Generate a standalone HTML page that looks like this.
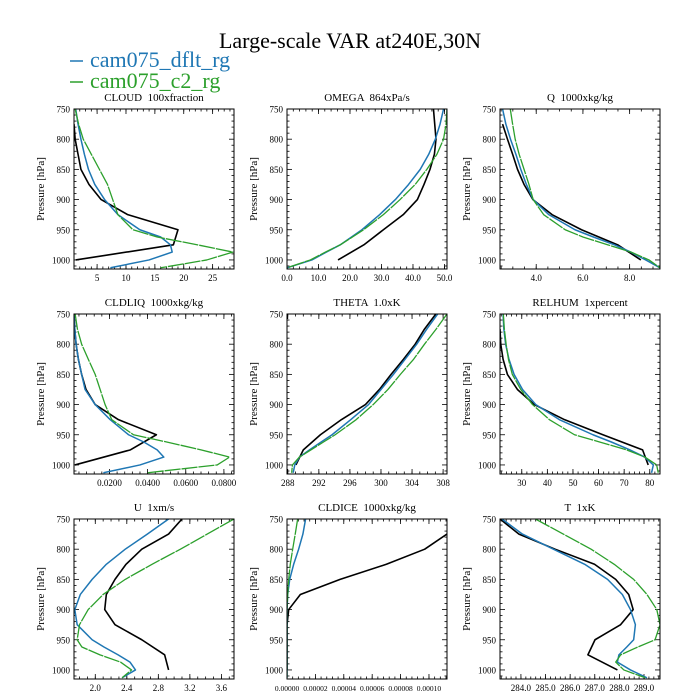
<!DOCTYPE html>
<html><head><meta charset="utf-8"><style>
html,body{margin:0;padding:0;background:#fff;}
svg{display:block;font-family:"Liberation Serif",serif;}
text{white-space:pre;}
</style></head><body>
<svg id="chart" width="700" height="700" viewBox="0 0 700 700">
<text x="350" y="48" font-size="22" text-anchor="middle">Large-scale VAR at240E,30N</text>
<g>
<line x1="70" y1="61" x2="83" y2="61" stroke="#1f77b4" stroke-width="1.5"/>
<text x="90" y="67" font-size="22" fill="#1f77b4">cam075_dflt_rg</text>
<line x1="70" y1="82" x2="83" y2="82" stroke="#2ca02c" stroke-width="1.5"/>
<text x="90" y="88" font-size="22" fill="#2ca02c">cam075_c2_rg</text>
</g>
<g id="panels"></g>
</svg>
<script>
// Pressure levels
const pModel = [750,775,800,825,850,875,900,925,950,962,975,987,1000,1013];
const pObs = [750,775,800,825,850,875,900,925,950,975,1000];

// CLOUD
const cloudDflt = [1.3,1.7,2.2,2.8,3.5,4.6,6.3,8.6,12.4,16.0,17.7,18.0,14.0,7.3];
const cloudC2 = [1.2,1.8,2.6,4.0,5.4,6.8,7.7,8.6,11.2,15.4,22.4,28.5,24.0,16.0];
const cloudObs = [null,1.0,1.2,1.7,2.2,3.6,5.7,10.3,19.0,18.2,1.3];
const cloudTicks = [5,10,15,20,25];
// OMEGA
const omegaDflt = [49.7,48.6,47.1,45.0,42.3,38.6,34.4,29.4,23.8,20.5,16.9,12.5,7.9,0];
const omegaC2 = [50.8,50.5,49.7,47.6,44.4,40.7,35.9,30.6,24.3,20.8,16.9,12.2,7.4,0];
const omegaObs = [46.5,46.9,47.3,46.8,45.4,43.5,41.4,36.9,30.6,24.4,16.2];
const omegaTicks = [0,10,20,30,40,50];
// Q
const qDflt = [2.56,2.70,2.90,3.13,3.34,3.58,3.87,4.54,5.66,6.45,7.35,8.05,8.69,9.30];
const qC2 = [2.89,2.99,3.10,3.27,3.48,3.69,3.87,4.32,5.24,6.00,7.07,8.06,8.83,9.30];
const qObs = [null,2.56,2.77,2.99,3.20,3.48,3.86,4.68,5.94,7.49,8.48];
const qTicks = [4,6,8];
// CLDLIQ
const liqDflt = [0.0014,0.0018,0.0025,0.0037,0.0054,0.0072,0.0125,0.0204,0.0300,0.0380,0.0450,0.0485,0.0360,0.0168];
const liqC2 = [0.0020,0.0032,0.0054,0.0089,0.0125,0.0151,0.0177,0.0212,0.0326,0.0500,0.0680,0.0830,0.0765,0.0397];
const liqObs = [0.0014,0.0018,0.0025,0.0037,0.0054,0.0077,0.0125,0.0247,0.0446,0.0310,0.0019];
const liqTicks = [0.02,0.04,0.06,0.08];
// THETA
const thDflt = [307.3,305.9,304.6,303.1,301.6,300.0,298.4,296.1,293.7,292.3,290.8,289.5,288.9,288.7];
const thC2 = [308.5,307.1,305.6,304.2,302.5,300.9,299.0,296.8,294.1,292.6,291.0,289.5,288.6,288.5];
const thObs = [307.06,305.6,304.4,302.9,301.3,299.8,298.0,294.9,292.2,290.0,289.05];
const thTicks = [288,292,296,300,304,308];
// RELHUM
const rhDflt = [22.7,23.0,23.7,25.0,27.0,30.3,35.5,44.7,57.8,65.0,72.2,78.0,81.4,80.7];
const rhC2 = [22.8,23.2,23.9,24.8,26.3,29.6,34.2,40.8,50.6,60.4,70.9,78.1,82.7,83.3];
const rhObs = [null,21.5,21.8,22.7,24.4,28.3,34.9,46.7,61.7,77.2,79.4];
const rhTicks = [30,40,50,60,70,80];
// U
const uDflt = [2.93,2.66,2.38,2.14,1.96,1.81,1.74,1.77,1.96,2.11,2.29,2.44,2.51,2.34];
const uC2 = [3.76,3.42,3.08,2.72,2.38,2.10,1.91,1.80,1.77,1.83,2.06,2.32,2.46,2.34];
const uObs = [3.10,2.93,2.59,2.39,2.25,2.14,2.12,2.25,2.59,2.88,2.93];
const uTicks = [2.0,2.4,2.8,3.2,3.6];
// CLDICE
const iceDflt = [1.31e-5,1.12e-5,8.2e-6,4.7e-6,1.9e-6,5e-7,0,0,0,0,0,0,0,0];
const iceC2 = [7.5e-6,5.8e-6,4.0e-6,2.3e-6,1.2e-6,5e-7,0,0,0,0,0,0,0,0];
const iceObs = [null,1.127e-4,9.7e-5,7.0e-5,3.74e-5,9.4e-6,1.2e-6,0,0,0,0];
const iceTicks = [0,2e-5,4e-5,6e-5,8e-5,1e-4];
// T
const tDflt = [283.23,284.06,285.32,286.59,287.52,288.12,288.45,288.65,288.58,288.30,287.98,287.92,288.45,289.12];
const tC2 = [284.59,285.72,286.85,287.79,288.58,289.12,289.52,289.65,289.45,288.75,288.05,287.85,288.18,289.05];
const tObs = [283.15,283.92,285.39,286.99,287.85,288.38,288.56,288.05,287.01,286.72,287.92];
const tTicks = [284,285,286,287,288,289];

const yTicks = [750,800,850,900,950,1000];

const panels = [
 {name:'cloud',title:'CLOUD  100xfraction',col:0,row:0,dom:[1.0,28.7],d:cloudDflt,c:cloudC2,o:cloudObs,ticks:cloudTicks,minor:1,fs:9,fmt:v=>v.toFixed(0)},
 {name:'omega',title:'OMEGA  864xPa/s',col:1,row:0,dom:[0,50.8],d:omegaDflt,c:omegaC2,o:omegaObs,ticks:omegaTicks,minor:2,fs:9,fmt:v=>v.toFixed(1)},
 {name:'q',title:'Q  1000xkg/kg',col:2,row:0,dom:[2.45,9.3],d:qDflt,c:qC2,o:qObs,ticks:qTicks,minor:0.5,fs:9,fmt:v=>v.toFixed(1)},
 {name:'cldliq',title:'CLDLIQ  1000xkg/kg',col:0,row:1,dom:[0.0014,0.0853],d:liqDflt,c:liqC2,o:liqObs,ticks:liqTicks,minor:0.004,fs:9,fmt:v=>v.toFixed(4)},
 {name:'theta',title:'THETA  1.0xK',col:1,row:1,dom:[287.9,308.5],d:thDflt,c:thC2,o:thObs,ticks:thTicks,minor:1,fs:9,fmt:v=>v.toFixed(0)},
 {name:'relhum',title:'RELHUM  1xpercent',col:2,row:1,dom:[21.5,84],d:rhDflt,c:rhC2,o:rhObs,ticks:rhTicks,minor:2,fs:9,fmt:v=>v.toFixed(0)},
 {name:'u',title:'U  1xm/s',col:0,row:2,dom:[1.73,3.76],d:uDflt,c:uC2,o:uObs,ticks:uTicks,minor:0.1,fs:9,fmt:v=>v.toFixed(1)},
 {name:'cldice',title:'CLDICE  1000xkg/kg',col:1,row:2,dom:[0,1.127e-4],d:iceDflt,c:iceC2,o:iceObs,ticks:iceTicks,minor:4e-6,fs:7.5,fmt:v=>v.toFixed(5)},
 {name:'t',title:'T  1xK',col:2,row:2,dom:[283.15,289.65],d:tDflt,c:tC2,o:tObs,ticks:tTicks,minor:0.2,fs:9,fmt:v=>v.toFixed(1)}
];

const NS='http://www.w3.org/2000/svg';
const colX=[74,287,500], rowY=[109,314,519], W=160, H=160, PMIN=750, PMAX=1015;
function mk(tag, attrs, parent){const e=document.createElementNS(NS,tag);for(const k in attrs)e.setAttribute(k,attrs[k]);parent.appendChild(e);return e;}
const root=document.getElementById('panels');

panels.forEach(pn=>{
  const x0=colX[pn.col], y0=rowY[pn.row];
  const g=mk('g',{},root);
  
  
  const xs=v=>x0+(v-pn.dom[0])/(pn.dom[1]-pn.dom[0])*W;
  const ys=p=>y0+(p-PMIN)/(PMAX-PMIN)*H;
  const cp=mk('clipPath',{id:'clip-'+pn.name},g);
  mk('rect',{x:x0,y:y0,width:W,height:H},cp);
  const t=mk('text',{x:x0+W/2,y:y0-8,'font-size':11,'text-anchor':'middle'},g);
  t.textContent=pn.title;
  
  
  const yl=mk('text',{x:0,y:0,'font-size':11,'text-anchor':'middle',transform:`translate(${x0-30},${y0+H/2}) rotate(-90)`},g);
  yl.textContent='Pressure [hPa]';
  
  
  const tk=mk('g',{stroke:'#000','stroke-width':0.8},g);
  
  
  for(let p=750;p<=1010;p+=10){
    const major=(p%50===0), L=major?5:2.5, y=ys(p);
    mk('line',{x1:x0,y1:y,x2:x0+L,y2:y},tk);
    mk('line',{x1:x0+W,y1:y,x2:x0+W-L,y2:y},tk);
  }
  const mstart=Math.ceil(pn.dom[0]/pn.minor-1e-9);
  for(let i=mstart;i*pn.minor<=pn.dom[1]+1e-12;i++){
    const x=xs(i*pn.minor);
    mk('line',{x1:x,y1:y0+H,x2:x,y2:y0+H-2.5},tk);
    mk('line',{x1:x,y1:y0,x2:x,y2:y0+2.5},tk);
  }
  yTicks.forEach(p=>{
    const lb=mk('text',{x:x0-4,y:ys(p)+3.5,'font-size':9,'text-anchor':'end'},g);
    lb.textContent=p;
    
    
  });
  pn.ticks.forEach(v=>{
    const x=xs(v);
    mk('line',{x1:x,y1:y0+H,x2:x,y2:y0+H-5,stroke:'#000','stroke-width':0.8},tk);
    mk('line',{x1:x,y1:y0,x2:x,y2:y0+5,stroke:'#000','stroke-width':0.8},tk);
    const lb=mk('text',{x:x,y:y0+H+12,'font-size':pn.fs,'text-anchor':'middle'},g);
    lb.textContent=pn.fmt(v);
    
    
  });
  const lines=mk('g',{'clip-path':`url(#clip-${pn.name})`,fill:'none','stroke-linejoin':'round'},g);
  function path(vals,levels){let s='';vals.forEach((v,i)=>{if(v===null)return;s+=(s?'L':'M')+xs(v).toFixed(2)+','+ys(levels[i]).toFixed(2);});return s;}
  const ob=mk('path',{d:path(pn.o,pObs),stroke:'#000','stroke-width':1.6},lines);
  
  
  const bl=mk('path',{d:path(pn.d,pModel),stroke:'#1f77b4','stroke-width':1.5},lines);
  
  
  const gr=mk('path',{d:path(pn.c,pModel),stroke:'#2ca02c','stroke-width':1.3,'stroke-dasharray':'16 1'},lines);
  
  
  const fr=mk('rect',{x:x0,y:y0,width:W,height:H,fill:'none',stroke:'#000','stroke-width':1},g);
  
  
});
</script>
</body></html>
